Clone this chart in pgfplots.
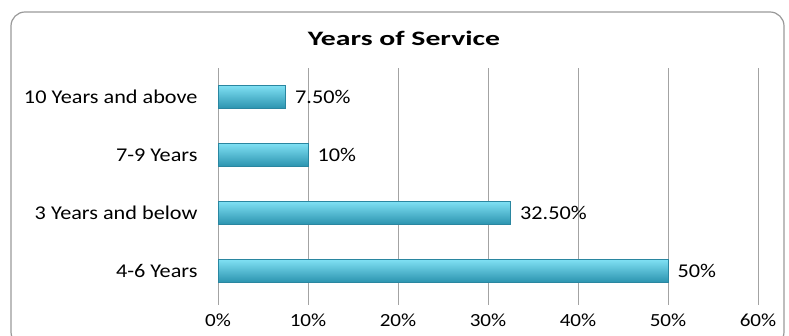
\documentclass[border=0pt]{standalone}
\usepackage{pgfplots}
\pgfplotsset{compat=1.18}
\usepackage{fontspec}
\setmainfont[FakeStretch=1.14]{Carlito}
\newfontfamily\titlefont[FakeStretch=1.45]{Carlito}
\definecolor{gridc}{HTML}{A3A3A3}
\definecolor{bartop}{HTML}{7FE0F4}
\definecolor{barmid}{HTML}{3DB9D7}
\definecolor{barbot}{HTML}{2B93AF}
\definecolor{baredge}{HTML}{2A86A0}
\begin{document}
\begin{tikzpicture}[x=1pt,y=1pt]
\path[use as bounding box] (0,0) rectangle (789,336);
\draw[gray!80, line width=1.2pt, rounded corners=14pt] (11,-10) rectangle (784,324);
\node[font=\titlefont\fontsize{20.5}{24}\selectfont\bfseries] at (404,298) {Years of Service};
\begin{axis}[
  at={(218pt,36pt)}, anchor=south west,
  scale only axis, width=540pt, height=232pt,
  xmin=0, xmax=60, ymin=-0.5, ymax=3.5,
  axis lines*=left,
  x axis line style={draw=none},
  y axis line style={gridc, line width=0.8pt},
  xtick={0,10,...,60},
  xticklabel={\pgfmathprintnumber{\tick}\%},
  xmajorgrids, grid style={gridc, line width=0.8pt},
  major tick style={gridc, line width=0.8pt},
  tick align=outside, major tick length=5pt,
  ytick={0,1,2,3},
  yticklabels={4-6 Years,3 Years and below,7-9 Years,10 Years and above},
  ytick style={draw=none},
  extra y ticks={-0.5,0.5,1.5,2.5,3.5},
  extra y tick labels={},
  extra y tick style={major tick style={gridc, line width=0.8pt}, major tick length=5pt, grid=none},
  xticklabel style={font=\fontsize{18.5}{21}\selectfont, yshift=-5pt},
  yticklabel style={font=\fontsize{19.5}{22}\selectfont, xshift=-12pt},
  /pgf/number format/assume math mode=true,
  xbar, bar width=23pt, bar shift=0pt,
  nodes near coords,
  point meta=explicit symbolic,
  every node near coord/.append style={font=\fontsize{19.5}{22}\selectfont, anchor=west, xshift=6pt, black},
  clip=false,
]
\addplot[draw=baredge, line width=0.6pt, top color=bartop, middle color=barmid, bottom color=barbot]
  coordinates {(50,0) [50\%]};
\addplot[draw=baredge, line width=0.6pt, top color=bartop, middle color=barmid, bottom color=barbot]
  coordinates {(32.5,1) [32.50\%]};
\addplot[draw=baredge, line width=0.6pt, top color=bartop, middle color=barmid, bottom color=barbot]
  coordinates {(10,2) [10\%]};
\addplot[draw=baredge, line width=0.6pt, top color=bartop, middle color=barmid, bottom color=barbot]
  coordinates {(7.5,3) [7.50\%]};
\end{axis}
\end{tikzpicture}
\end{document}
